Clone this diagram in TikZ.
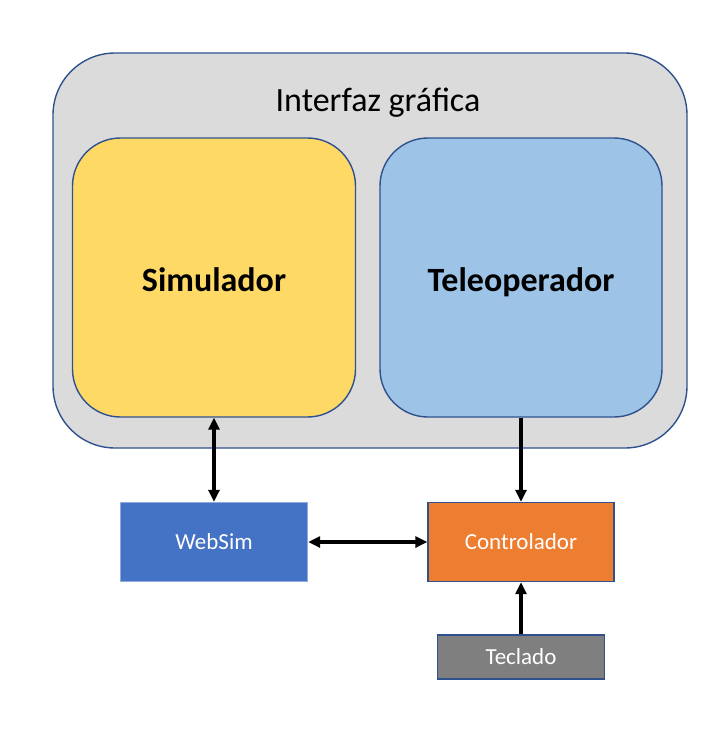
\documentclass[tikz,border=0pt]{standalone}
\usepackage{fontspec}
\setmainfont{Carlito}
\usetikzlibrary{arrows.meta}
\definecolor{framegray}{HTML}{DBDBDB}
\definecolor{edgeblue}{HTML}{2F528F}
\definecolor{simyellow}{HTML}{FFD966}
\definecolor{telblue}{HTML}{9DC3E6}
\definecolor{webblue}{HTML}{4472C4}
\definecolor{webedge}{HTML}{8FAADC}
\definecolor{ctrlorange}{HTML}{ED7D31}
\definecolor{keygray}{HTML}{7F7F7F}
\tikzset{
	panel/.style={draw=edgeblue, line width=1.4pt, rounded corners=48pt, inner sep=0pt, text height=28pt, text depth=0pt, font=\fontsize{34}{40}\selectfont\bfseries},
	block/.style={draw=edgeblue, line width=1.4pt, inner sep=0pt, text=white, font=\fontsize{23}{27}\selectfont},
	link/.style={line width=3.4pt, -{Triangle[length=12pt,width=11pt]}},
	twolink/.style={line width=3.6pt, {Triangle[length=12pt,width=11pt]}-{Triangle[length=12pt,width=11pt]}}
}
\begin{document}
\begin{tikzpicture}[x=1pt, y=-1pt]
			\useasboundingbox[fill=white] (0,0) rectangle (727,737);
			\node[draw=edgeblue, fill=framegray, line width=1.4pt, rounded corners=62pt, minimum width=634pt, minimum height=395pt] (gui) at (370, 250.5) {};
			\node[font=\fontsize{34}{40}\selectfont] (title) at (378, 103) {Interfaz gráfica};
			\node[panel, fill=simyellow, minimum width=283pt, minimum height=279pt] (sim) at (214, 277.5) {Simulador};
			\node[panel, fill=telblue, minimum width=282pt, minimum height=279pt] (tele) at (521, 277.5) {Teleoperador};
			\node[block, fill=webblue, draw=webedge, minimum width=187pt, minimum height=79pt] (websim) at (214, 542) {WebSim};
			\node[block, fill=ctrlorange, minimum width=186pt, minimum height=79pt] (ctrl) at (521, 542) {Controlador};
			\node[block, fill=keygray, minimum width=167pt, minimum height=44pt] (keys) at (521, 657) {Teclado};
			\draw[twolink] (sim.south) -- (websim.north);
			\draw[link] (tele.south) -- (ctrl.north);
			\draw[twolink] (websim.east) -- (ctrl.west);
			\draw[link] (keys.north) -- (ctrl.south);
		\end{tikzpicture}
\end{document}
